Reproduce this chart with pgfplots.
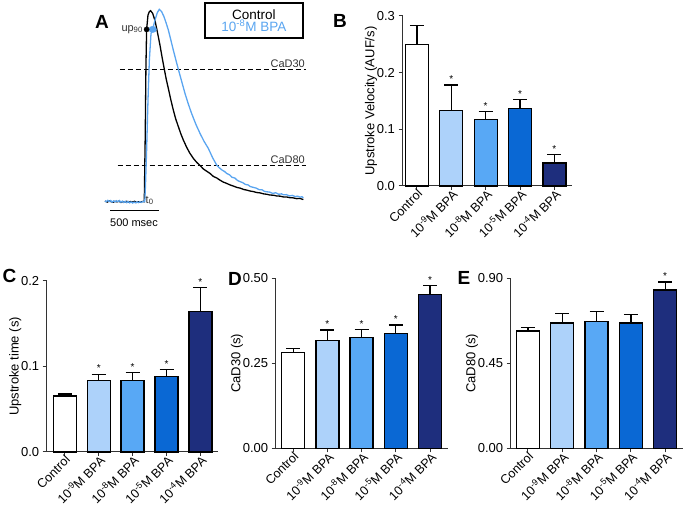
\documentclass[border=0pt]{standalone}
\usepackage{pgfplots}
\pgfplotsset{compat=1.18}
\usepackage{fontspec}
\setmainfont{Liberation Sans}
\definecolor{cA}{RGB}{173,210,250}
\definecolor{cB}{RGB}{88,168,245}
\definecolor{cC}{RGB}{10,104,212}
\definecolor{cD}{RGB}{30,46,125}
\definecolor{tblue}{RGB}{90,165,240}
\newcommand{\fs}[1]{\fontsize{#1}{#1}\selectfont}
\pgfplotsset{
  barpanel/.style={
    scale only axis,
    axis x line*=bottom, axis y line*=left,
    axis line style={-, line width=1pt, black!80},
    ybar, bar width=23pt, bar shift=0pt,
    xtick={0,...,4},
    xticklabels={Control,10\textsuperscript{-9}M BPA,10\textsuperscript{-8}M BPA,10\textsuperscript{-5}M BPA,10\textsuperscript{-4}M BPA},
    x tick label style={rotate=45, anchor=north east, font=\fs{12.6}, inner sep=0pt, yshift=1.5pt, xshift=1pt},
    y tick label style={font=\fs{13}},
    tick align=outside, major tick length=4pt,
    tick style={line width=1pt, black!80},
    ylabel style={font=\fs{13}},
    ylabel shift=-7pt,
    clip=false,
    /pgf/number format/assume math mode=true,
  },
  eb/.style={draw=black, line width=1.3pt, error bars/.cd, y dir=plus, y explicit,
    error bar style={line width=1.3pt, black},
    error mark options={rotate=90, mark size=7pt, line width=1.3pt, black}},
}
\tikzset{star/.style={font=\fs{10}, anchor=south, inner sep=1pt, yshift=1pt}}
\begin{document}
\begin{tikzpicture}[x=1pt,y=1pt]
\path[use as bounding box] (0,0) rectangle (685,508);

% ---------------- Panel A ----------------
\begin{axis}[at={(95.6pt,287.2pt)}, anchor=south west, scale only axis,
  width=214.2pt, height=219.65pt, xmin=-500, xmax=1700, ymin=-0.1, ymax=1.05,
  axis lines=none, clip=false]
\addplot[line width=1.2pt, dash pattern=on 5pt off 3pt] coordinates {(-250,0.693) (1661,0.693)};
\addplot[line width=1.2pt, dash pattern=on 5pt off 3pt] coordinates {(-273,0.19) (1661,0.19)};
\addplot[black, line width=1.3pt] coordinates {
(-404,0.003)(-380,-0.002)(-360,0.004)(-340,0.000)(-320,-0.003)(-300,0.002)(-280,-0.001)(-260,0.003)(-240,-0.004)(-220,0.001)(-200,-0.002)(-180,0.002)(-160,-0.003)(-140,0.001)(-120,-0.002)(-100,0.002)(-80,-0.004)(-60,0.000)(-40,-0.003)(-20,0.001)(0,0.000)
(10,0.358)(17,0.707)(24,0.902)(38,0.977)(52,0.995)(65,1.000)(86,0.986)(110,0.948)(134,0.890)(161,0.820)(185,0.750)(206,0.693)(226,0.640)(247,0.593)(272,0.535)(298,0.480)(323,0.433)(350,0.393)(375,0.356)(401,0.323)(435,0.285)(469,0.253)(505,0.226)(540,0.205)(572,0.190)(605,0.172)(640,0.160)(675,0.148)(710,0.132)(745,0.124)(777,0.113)(810,0.103)(845,0.096)(880,0.088)(914,0.082)(950,0.075)(985,0.071)(1020,0.064)(1050,0.061)(1085,0.056)(1120,0.053)(1155,0.048)(1190,0.046)(1225,0.041)(1257,0.039)(1290,0.035)(1325,0.034)(1360,0.030)(1395,0.029)(1428,0.025)(1460,0.025)(1495,0.021)(1530,0.020)(1565,0.016)(1600,0.017)(1634,0.011)};
\addplot[tblue, line width=1.3pt] coordinates {
(-404,0.004)(-390,0.000)(-375,0.007)(-360,0.001)(-345,0.006)(-330,-0.002)(-315,0.004)(-300,-0.001)(-285,0.005)(-270,0.000)(-255,0.006)(-240,-0.003)(-225,0.003)(-210,-0.004)(-195,0.002)(-180,-0.005)(-165,0.001)(-150,-0.006)(-135,-0.001)(-120,-0.007)(-105,-0.002)(-90,-0.006)(-75,-0.001)(-60,-0.005)(-45,0.000)(-30,-0.004)(-15,0.001)(5,0.000)
(12,0.08)(24,0.27)(38,0.53)(52,0.74)(69,0.88)(86,0.902)(110,0.951)(134,0.990)(154,1.007)(178,0.995)(202,0.969)(225,0.935)(247,0.899)(272,0.848)(298,0.794)(323,0.745)(350,0.693)(385,0.628)(418,0.567)(452,0.512)(486,0.462)(530,0.405)(572,0.358)(615,0.315)(658,0.279)(700,0.232)(743,0.192)(770,0.178)(800,0.165)(825,0.158)(846,0.148)(875,0.141)(900,0.128)(930,0.124)(955,0.112)(983,0.105)(1010,0.100)(1040,0.090)(1065,0.088)(1090,0.079)(1120,0.075)(1150,0.071)(1180,0.063)(1210,0.062)(1235,0.054)(1257,0.052)(1290,0.050)(1320,0.043)(1350,0.047)(1380,0.039)(1410,0.041)(1428,0.036)(1460,0.037)(1490,0.030)(1520,0.033)(1550,0.027)(1575,0.029)(1599,0.024)(1620,0.026)(1634,0.020)};
\addplot[only marks, mark=*, mark size=3.2pt, tblue, mark options={xscale=1.2}] coordinates {(86,0.902)};
\addplot[only marks, mark=*, mark size=2.6pt, black] coordinates {(24,0.902)};
\addplot[black, line width=1.2pt] coordinates {(-352,-0.047) (148,-0.047)};
\end{axis}
\node[font=\fs{11}, anchor=north] at (134,293) {500 msec};
\node[font=\fs{11}, text=black!80, anchor=east, inner sep=0pt] at (143,478.7) {up\textsubscript{90}};
\node[font=\fs{11}, text=black!80, anchor=west, inner sep=0pt] at (145.5,307.5) {t\textsubscript{0}};
\node[font=\fs{11}, text=black!80, anchor=south east, inner sep=1pt] at (306,439.5) {CaD30};
\node[font=\fs{11}, text=black!80, anchor=south east, inner sep=1pt] at (306,343.5) {CaD80};
\node[draw, line width=1.8pt, minimum width=97.7pt, minimum height=34.4pt, inner sep=0pt, align=center, font=\fs{13.5}] at (253.9,487.5) {Control\\[-1pt]\textcolor{tblue}{10\textsuperscript{-8}M BPA}};
\node[font=\bfseries\fs{19}] at (102,486.3) {A};

% ---------------- Panel B ----------------
\begin{axis}[barpanel, at={(402.5pt,322pt)}, anchor=south west, width=169pt, height=170pt,
  xmin=-0.42, xmax=4.497, ymin=0, ymax=0.3, ytick={0,0.1,0.2,0.3}, yticklabels={0.0,0.1,0.2,0.3},
  ylabel={Upstroke Velocity (AUF/s)}]
\addplot[fill=white, eb] coordinates {(0,0.250) +- (0,0.0335)};
\addplot[fill=cA, eb] coordinates {(1,0.1335) +- (0,0.0445)};
\addplot[fill=cB, eb] coordinates {(2,0.1176) +- (0,0.0142)};
\addplot[fill=cC, eb] coordinates {(3,0.137) +- (0,0.016)};
\addplot[fill=cD, eb] coordinates {(4,0.0406) +- (0,0.0153)};
\node[star] at (axis cs:1,0.178) {*};
\node[star] at (axis cs:2,0.1318) {*};
\node[star] at (axis cs:3,0.153) {*};
\node[star] at (axis cs:4,0.0559) {*};
\end{axis}
\node[font=\bfseries\fs{19}] at (340,487) {B};

% ---------------- Panel C ----------------
\begin{axis}[barpanel, at={(46.7pt,56pt)}, anchor=south west, width=171.6pt, height=171pt,
  xmin=-0.534, xmax=4.528, ymin=0, ymax=0.2, ytick={0,0.1,0.2}, yticklabels={0.0,0.1,0.2},
  ylabel={Upstroke time (s)}]
\addplot[fill=white, eb] coordinates {(0,0.0654) +- (0,0.0026)};
\addplot[fill=cA, eb] coordinates {(1,0.0833) +- (0,0.0077)};
\addplot[fill=cB, eb] coordinates {(2,0.0840) +- (0,0.0086)};
\addplot[fill=cC, eb] coordinates {(3,0.0883) +- (0,0.0082)};
\addplot[fill=cD, eb] coordinates {(4,0.1645) +- (0,0.028)};
\node[star] at (axis cs:1,0.091) {*};
\node[star] at (axis cs:2,0.0926) {*};
\node[star] at (axis cs:3,0.0965) {*};
\node[star] at (axis cs:4,0.1925) {*};
\end{axis}
\node[font=\bfseries\fs{19}] at (9.5,232) {C};

% ---------------- Panel D ----------------
\begin{axis}[barpanel, at={(275.7pt,59.7pt)}, anchor=south west, width=172.6pt, height=170pt,
  xmin=-0.512, xmax=4.535, ymin=0, ymax=0.5, ytick={0,0.25,0.5}, yticklabels={0.00,0.25,0.50},
  ylabel={CaD30 (s)}]
\addplot[fill=white, eb] coordinates {(0,0.282) +- (0,0.011)};
\addplot[fill=cA, eb] coordinates {(1,0.3167) +- (0,0.0313)};
\addplot[fill=cB, eb] coordinates {(2,0.3255) +- (0,0.0245)};
\addplot[fill=cC, eb] coordinates {(3,0.338) +- (0,0.0247)};
\addplot[fill=cD, eb] coordinates {(4,0.452) +- (0,0.027)};
\node[star] at (axis cs:1,0.348) {*};
\node[star] at (axis cs:2,0.350) {*};
\node[star] at (axis cs:3,0.3627) {*};
\node[star] at (axis cs:4,0.479) {*};
\end{axis}
\node[font=\bfseries\fs{19}] at (235,229) {D};

% ---------------- Panel E ----------------
\begin{axis}[barpanel, at={(510.7pt,59.7pt)}, anchor=south west, width=172.3pt, height=170pt,
  xmin=-0.504, xmax=4.52, ymin=0, ymax=0.9, ytick={0,0.45,0.9}, yticklabels={0.00,0.45,0.90},
  ylabel={CaD80 (s)}]
\addplot[fill=white, eb] coordinates {(0,0.621) +- (0,0.018)};
\addplot[fill=cA, eb] coordinates {(1,0.6635) +- (0,0.0495)};
\addplot[fill=cB, eb] coordinates {(2,0.6706) +- (0,0.0544)};
\addplot[fill=cC, eb] coordinates {(3,0.6635) +- (0,0.0455)};
\addplot[fill=cD, eb] coordinates {(4,0.838) +- (0,0.042)};
\node[star] at (axis cs:4,0.880) {*};
\end{axis}
\node[font=\bfseries\fs{19}] at (464,230) {E};
\end{tikzpicture}
\end{document}
